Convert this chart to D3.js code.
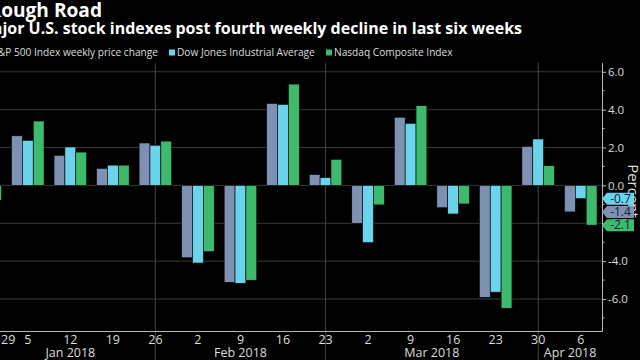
<!DOCTYPE html>
<html><head><meta charset="utf-8">
<script src="https://cdn.jsdelivr.net/npm/d3@7"></script>
<style>html,body{margin:0;padding:0;background:#000;overflow:hidden}</style>
</head><body><svg id="c" width="640" height="360"></svg>
<script>
const weeks = ["Dec 29","Jan 5","Jan 12","Jan 19","Jan 26","Feb 2","Feb 9","Feb 16","Feb 23","Mar 2","Mar 9","Mar 16","Mar 23","Mar 30","Apr 6"];
const spx = [-0.3, 2.62, 1.59, 0.90, 2.24, -3.82, -5.12, 4.33, 0.57, -2.0, 3.60, -1.18, -5.91, 2.06, -1.4];
const dow = [-0.1, 2.38, 2.03, 1.07, 2.12, -4.10, -5.17, 4.28, 0.41, -3.02, 3.28, -1.51, -5.64, 2.45, -0.7];
const ndx = [-0.78, 3.40, 1.76, 1.07, 2.34, -3.50, -5.01, 5.35, 1.38, -1.03, 4.21, -0.98, -6.49, 1.04, -2.1];
const seriesNames = ["S&P 500 Index weekly price change","Dow Jones Industrial Average","Nasdaq Composite Index"];
const colors = ["#7f91b3","#6bd4ec","#3dba6b"];
const monthLabels = ["Jan 2018","Feb 2018","Mar 2018","Apr 2018"];
const monthEnds = ["Jan 26","Feb 23","Mar 30"];
const yTicks = [-6,-4,-2,0,2,4,6];
const yMinor = [-7,-5,-3,-1,1,3,5];
const titleText = "Rough Road";
const subtitleText = "Major U.S. stock indexes post fourth weekly decline in last six weeks";
const axisTitle = "Percent";

const series = [spx, dow, ndx];
const svg = d3.select("#c");
svg.append("rect").attr("width",640).attr("height",360).attr("fill","#000");
const FONT = "'Open Sans', 'Noto Sans', sans-serif";

function fit(sel, target, from) {
  const n = sel.node();
  const len = from ? n.getSubStringLength(from, n.getNumberOfChars() - from) : n.getComputedTextLength();
  const fs = parseFloat(sel.attr("font-size"));
  sel.attr("font-size", fs * target / len);
}

const axisX = 602, plotTop = 62.7, plotBottom = 331;
const x0 = d3.scaleBand().domain(weeks).range([-36, axisX]).padding(0);
const groupW = 32.6;
const x1 = d3.scaleBand().domain([0,1,2]).range([(x0.bandwidth()-groupW)/2, (x0.bandwidth()+groupW)/2]);
const y = d3.scaleLinear().domain([-7.69, 6.48]).range([plotBottom, plotTop]);
const cx = w => x0(w) + x0.bandwidth()/2;

// horizontal gridlines
svg.append("g").selectAll("line").data(yTicks).join("line")
  .attr("x1", 0).attr("x2", axisX).attr("y1", d => y(d)).attr("y2", d => y(d))
  .attr("stroke", "#3a3a3a").attr("stroke-width", 1);

// month separators
svg.append("g").selectAll("line").data(monthEnds).join("line")
  .attr("x1", d => cx(d)).attr("x2", d => cx(d)).attr("y1", plotTop).attr("y2", 360)
  .attr("stroke", "#444").attr("stroke-width", 1);

// bars
const g = svg.append("g");
weeks.forEach((w, i) => {
  series.forEach((s, k) => {
    const v = s[i];
    g.append("rect")
      .attr("x", x0(w) + x1(k)).attr("width", x1.bandwidth())
      .attr("y", y(Math.max(0, v))).attr("height", Math.abs(y(v) - y(0)))
      .attr("fill", colors[k]).attr("stroke", "#000").attr("stroke-width", 0.6);
  });
});

// x axis
const xa = svg.append("g").attr("transform", `translate(0,${plotBottom})`)
  .call(d3.axisBottom(x0).tickSize(0).tickPadding(4).tickFormat(d => d.split(" ")[1]));
xa.select(".domain").attr("stroke", "#bbb");
xa.selectAll("text").attr("fill", "#ddd").attr("font-size", 12.5).attr("font-family", FONT);
xa.selectAll(".tick").each(function(d) {
  const t = d3.select(this).select("text");
  const w = t.node().getComputedTextLength();
  const c = cx(d);
  if (c - w/2 < 1) t.attr("x", 1 + w/2 - c);
});

// month labels
const bounds = [cx(weeks[0]), ...monthEnds.map(cx), axisX];
svg.append("g").selectAll("text").data(monthLabels).join("text")
  .attr("x", (d, i) => (bounds[i] + bounds[i+1]) / 2).attr("y", 357)
  .attr("text-anchor", "middle").attr("fill", "#ddd").attr("font-size", 12.5)
  .attr("font-family", FONT).text(d => d);

// y axis
const ya = svg.append("g").attr("transform", `translate(${axisX},0)`)
  .call(d3.axisRight(y).tickValues(yTicks).tickSize(4).tickSizeOuter(0).tickPadding(2).tickFormat(d => d.toFixed(1)));
ya.select(".domain").attr("stroke", "#bbb");
ya.selectAll("line").attr("stroke", "#bbb");
ya.selectAll("text").attr("fill", "#ddd").attr("font-size", 11.5).attr("font-family", FONT);
svg.append("g").selectAll("line").data(yMinor).join("line")
  .attr("x1", axisX).attr("x2", axisX + 2.5).attr("y1", d => y(d)).attr("y2", d => y(d))
  .attr("stroke", "#bbb");

// axis title
svg.append("text").attr("transform", `translate(628,191) rotate(90)`)
  .attr("text-anchor", "middle").attr("fill", "#ddd").attr("font-size", 15)
  .attr("font-family", FONT).text(axisTitle);

// last value tags
const last = weeks.length - 1;
series.forEach((s, k) => {
  const v = s[last], cy = y(v);
  svg.append("path")
    .attr("d", `M${axisX},${cy} L${axisX+5},${cy-6} L${axisX+32},${cy-6} L${axisX+32},${cy+6} L${axisX+5},${cy+6} Z`)
    .attr("fill", colors[k]);
  svg.append("text").attr("x", axisX + 18.5).attr("y", cy + 4.3).attr("text-anchor", "middle")
    .attr("fill", "#14213d").attr("font-size", 12).attr("font-family", FONT).text(v.toFixed(1));
});

// title & subtitle
const t1 = svg.append("text").attr("x", 102).attr("y", 17).attr("text-anchor", "end")
  .attr("fill", "#fff").attr("font-weight", "bold").attr("font-size", 21).attr("font-family", FONT).text(titleText);
fit(t1, 101, 1);
const t2 = svg.append("text").attr("x", 522).attr("y", 34).attr("text-anchor", "end")
  .attr("fill", "#fff").attr("font-weight", "bold").attr("font-size", 15).attr("font-family", FONT).text(subtitleText);
fit(t2, 520, 2);

// legend
const lg = svg.append("g").attr("font-family", FONT).attr("fill", "#ddd");
const l2 = lg.append("text").attr("x", 177).attr("y", 56).attr("font-size", 11).text(seriesNames[1]);
fit(l2, 138);
const lfs = parseFloat(l2.attr("font-size"));
const l3 = lg.append("text").attr("x", 334).attr("y", 56).attr("font-size", lfs).text(seriesNames[2]);
const l1 = lg.append("text").attr("x", 158).attr("y", 56).attr("text-anchor", "end").attr("font-size", lfs).text(seriesNames[0]);
const w1 = l1.node().getComputedTextLength();
[[158 - w1 - 9, 0], [169, 1], [326, 2]].forEach(([sx, k]) => {
  lg.append("rect").attr("x", sx).attr("y", 49.5).attr("width", 6).attr("height", 6).attr("fill", colors[k]);
});
</script></body></html>
